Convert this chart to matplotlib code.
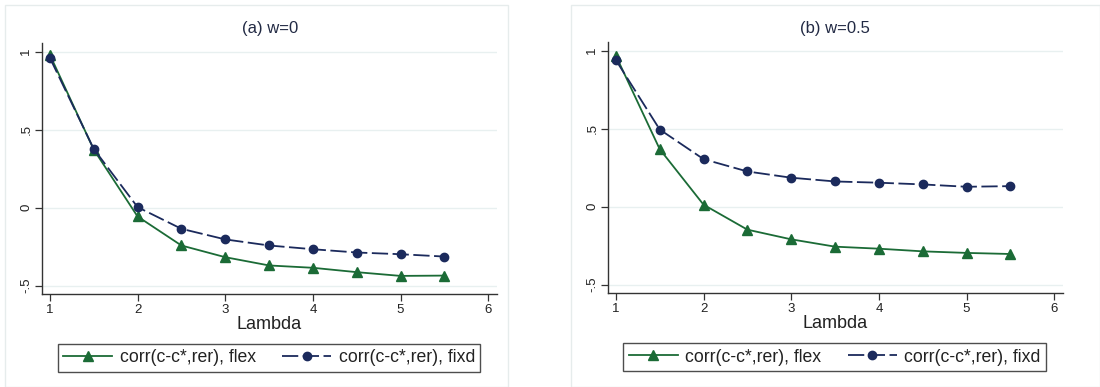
import matplotlib
matplotlib.use("Agg")
import matplotlib.pyplot as plt
from matplotlib.patches import Rectangle

plt.rcParams["font.family"] = ["Liberation Sans", "DejaVu Sans"]

lam = [1, 1.5, 2, 2.5, 3, 3.5, 4, 4.5, 5, 5.5]
flex_a = [0.98, 0.373, -0.056, -0.242, -0.317, -0.370, -0.385, -0.413, -0.437, -0.435]
fixd_a = [0.961, 0.377, 0.004, -0.135, -0.203, -0.242, -0.266, -0.287, -0.298, -0.313]
flex_b = [0.968, 0.369, 0.013, -0.147, -0.209, -0.256, -0.269, -0.286, -0.296, -0.303]
fixd_b = [0.940, 0.495, 0.305, 0.226, 0.186, 0.162, 0.154, 0.143, 0.128, 0.132]
titles = ["(a) w=0", "(b) w=0.5"]
xticks = [1, 2, 3, 4, 5, 6]
yticks = [-0.5, 0, 0.5, 1]
ytick_labels = ["-.5", "0", ".5", "1"]
lab_flex = "corr(c-c*,rer), flex"
lab_fixd = "corr(c-c*,rer), fixd"

W, H = 1100, 387
fig = plt.figure(figsize=(W / 100, H / 100), dpi=100)
fig.patch.set_facecolor("white")

GREEN = "#1b6b36"
NAVY = "#1b2a5c"
GRID = "#e8f0f0"
SPINE = "#333333"
TXT = "#222222"

# outer panel frames
fig.add_artist(Rectangle((5 / W, 0), (508 - 5) / W, (H - 5) / H, transform=fig.transFigure,
                         fill=False, edgecolor="#e6ecec", lw=1))
fig.add_artist(Rectangle((571 / W, 0), (1100 - 571) / W, (H - 5) / H, transform=fig.transFigure,
                         fill=False, edgecolor="#e6ecec", lw=1))

panels = [
    dict(l=42, r=497, t=43, b=294, flex=flex_a, fixd=fixd_a, title=titles[0],
         leg=(56, 343, 482, 373), cx=270),
    dict(l=608, r=1063, t=42, b=293, flex=flex_b, fixd=fixd_b, title=titles[1],
         leg=(622, 342, 1047, 372), cx=835),
]

for p in panels:
    ax = fig.add_axes([p["l"] / W, (H - p["b"]) / H, (p["r"] - p["l"]) / W, (p["b"] - p["t"]) / H])
    ax.set_facecolor("white")
    for y in yticks:
        ax.axhline(y, color=GRID, lw=1, zorder=0)
    l1, = ax.plot(lam, p["flex"], color=GREEN, lw=1.3, marker="^", ms=7, label=lab_flex, zorder=3)
    l2, = ax.plot(lam, p["fixd"], color=NAVY, lw=1.3, marker="o", ms=6,
                  dashes=(9, 2.5), label=lab_fixd, zorder=3)
    ax.set_xlim(0.91, 6.1)
    ax.set_ylim(-0.553, 1.056)
    ax.set_xticks(xticks)
    ax.set_xticklabels([str(x) for x in xticks], fontsize=9.5, color=TXT)
    ax.set_yticks(yticks)
    ax.set_yticklabels(ytick_labels, fontsize=9.5, rotation=90, va="center", color=TXT)
    ax.tick_params(direction="out", length=5, width=0.9, color=SPINE, pad=2)
    ax.spines["top"].set_visible(False)
    ax.spines["right"].set_visible(False)
    for s in ("left", "bottom"):
        ax.spines[s].set_color(SPINE)
        ax.spines[s].set_linewidth(1.0)
    ax.set_xlabel("Lambda", fontsize=13, color=TXT, labelpad=0)
    fig.text(p["cx"] / W, 1 - 29 / H, p["title"], ha="center", va="center", fontsize=12, color="#222a44")
    x0, y0, x1, y1 = p["leg"]
    leg = fig.legend(handles=[l1, l2], loc="center", ncol=2,
                     bbox_to_anchor=((x0 + x1) / 2 / W, 1 - (y0 + y1) / 2 / H),
                     frameon=True, fancybox=False, fontsize=12.7, handlelength=2.8,
                     columnspacing=1.5, handletextpad=0.4, borderpad=0.3)
    for t in leg.get_texts():
        t.set_color(TXT)
    leg.get_frame().set_edgecolor("#222222")
    leg.get_frame().set_linewidth(1.0)

fig.savefig("out.png", dpi=100)
